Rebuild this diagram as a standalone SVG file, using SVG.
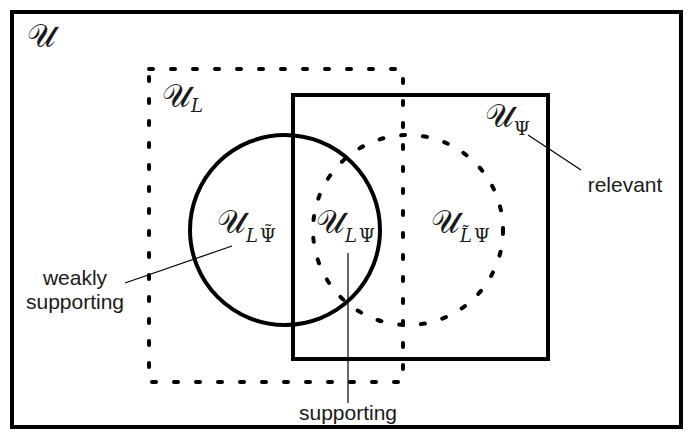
<svg xmlns="http://www.w3.org/2000/svg" width="693" height="439" viewBox="0 0 693 439">
<style>
.s{fill:none;stroke:#000;stroke-width:4}
.d{fill:none;stroke:#000;stroke-width:4;stroke-dasharray:4 18;stroke-linecap:round}
.l{fill:none;stroke:#000;stroke-width:1.2}
.t{font-family:"Liberation Sans",Arial,sans-serif;font-size:21px;fill:#1a1a1a}
.m{font-family:"DejaVu Serif","Liberation Serif",serif;font-size:32px;fill:#1a1a1a}
.sb{font-family:"DejaVu Serif",serif;font-size:18px}
.it{font-style:italic}
</style>
<rect width="693" height="439" fill="#fff"/>
<g id="universe"><rect class="s" x="12" y="12" width="669" height="415"/>
<text class="m" x="27" y="47">𝒰</text></g>
<g id="UL"><rect class="d" x="149" y="69" width="254" height="313"/>
<text class="m" x="162" y="107">𝒰<tspan class="sb it" dy="5">L</tspan></text></g>
<g id="UPsi"><rect class="s" x="293" y="95" width="255" height="264"/>
<text class="m" x="485" y="127">𝒰<tspan class="sb" dy="8">Ψ</tspan></text></g>
<g id="circleA"><circle class="s" cx="285" cy="230" r="95"/>
<text class="m" x="217" y="233">𝒰<tspan class="sb" dy="9"><tspan class="it">L</tspan><tspan dx="2">Ψ</tspan><tspan dx="-12" dy="-4">˜</tspan></tspan></text></g>
<g id="circleB"><circle class="d" cx="408" cy="230" r="95"/>
<text class="m" x="316" y="233">𝒰<tspan class="sb" dy="9"><tspan class="it">L</tspan><tspan dx="2">Ψ</tspan></tspan></text>
<text class="m" x="431" y="233">𝒰<tspan class="sb" dy="9"><tspan class="it">L̃</tspan><tspan dx="2">Ψ</tspan></tspan></text></g>
<g id="connectors">
<line class="l" x1="528" y1="135" x2="581" y2="170"/>
<line class="l" x1="125" y1="283" x2="232" y2="246"/>
<line class="l" x1="348" y1="253" x2="348" y2="403"/>
</g>
<g id="labels">
<text class="t" x="625" y="192" text-anchor="middle">relevant</text>
<text class="t" x="75" y="285" text-anchor="middle">weakly</text>
<text class="t" x="75" y="309" text-anchor="middle">supporting</text>
<text class="t" x="348" y="420" text-anchor="middle">supporting</text>
</g>
</svg>
